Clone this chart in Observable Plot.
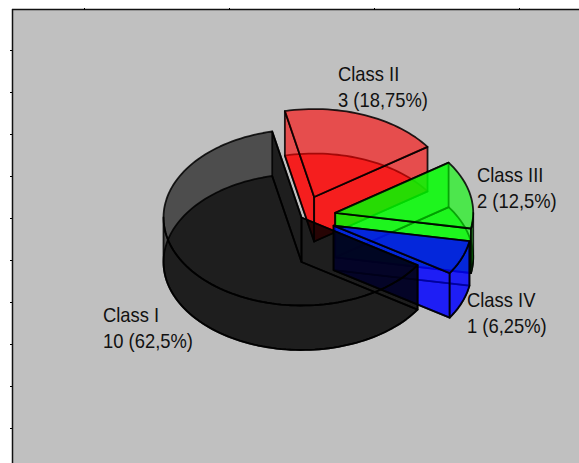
<!DOCTYPE html>
<html>
<head>
<meta charset="utf-8">
<script src="https://cdn.jsdelivr.net/npm/d3@7"></script>
<script src="https://cdn.jsdelivr.net/npm/@observablehq/plot@0.6"></script>
<style>
html,body{margin:0;padding:0;background:#fff;overflow:hidden}
svg{display:block}
</style>
</head>
<body>
<div id="chart"></div>
<script>
const classes = ["Class I", "Class II", "Class III", "Class IV"];
const counts = [10, 3, 2, 1];
const colors = ["#000000", "#ff0000", "#00ff00", "#0000ff"];
const paintOrder = [1, 2, 3, 0];
const labelX = [18.5, 253.5, 392.5, 382.5];
const labelY = [253, 12, 113, 238.5];
const xTicks = [0, 145, 290, 435];
const yTicks = [0, 42, 84, 126, 168, 210, 252, 294, 336, 378];

// pie geometry in chart units
const cx = 217, cy = 167, rx = 138, ry = 88, depth = 44.5, explode = 0.25, startAngle = 122.75;
const alpha = 0.6;
const total = d3.sum(counts);
const rad = a => a * Math.PI / 180;

const arc = (a0, a1, ox, oy, dz) => {
  const n = Math.max(2, Math.ceil(Math.abs(a1 - a0) / 2));
  return d3.range(n + 1).map(i => {
    const a = rad(a0 + (a1 - a0) * i / n);
    return {x: ox + rx * Math.sin(a), y: oy - ry * Math.cos(a) + dz};
  });
};

let cum = startAngle;
const slices = counts.map((v, i) => {
  const a0 = cum, a1 = cum + v / total * 360;
  cum = a1;
  const mid = rad((a0 + a1) / 2);
  return {
    a0, a1, color: colors[i],
    ox: cx + (i ? explode * rx * Math.sin(mid) : 0),
    oy: cy - (i ? explode * ry * Math.cos(mid) : 0)
  };
});

const face = (s, dz) => [{x: s.ox, y: s.oy + dz}, ...arc(s.a0, s.a1, s.ox, s.oy, dz)];
const radial = (s, a) => {
  const p = arc(a, a, s.ox, s.oy, 0)[0];
  return [{x: s.ox, y: s.oy}, p, {x: p.x, y: p.y + depth}, {x: s.ox, y: s.oy + depth}];
};
const outer = s => {
  // only the part of the rim facing the viewer (90..270 degrees, modulo a turn)
  const polys = [];
  for (const k of [0, 360]) {
    const lo = Math.max(s.a0, 90 + k), hi = Math.min(s.a1, 270 + k);
    if (hi > lo) {
      const top = arc(lo, hi, s.ox, s.oy, 0);
      polys.push([...top, ...arc(hi, lo, s.ox, s.oy, depth)]);
    }
  }
  return polys;
};

const poly = (pts, color) => Plot.line(pts, {
  x: "x", y: "y", curve: "linear-closed",
  fill: color, fillOpacity: alpha,
  stroke: "#000", strokeOpacity: 0.85, strokeWidth: 1.8, strokeLinejoin: "round"
});

const pieMarks = paintOrder.flatMap(i => {
  const s = slices[i];
  return [
    poly(face(s, depth), s.color),
    poly(radial(s, s.a0), s.color),
    poly(radial(s, s.a1), s.color),
    ...outer(s).map(p => poly(p, s.color)),
    poly(face(s, 0), s.color)
  ];
});

const labels = classes.map((c, i) => ({
  x: labelX[i], y: labelY[i],
  text: `${c}\n${counts[i]} (${String(counts[i] / total * 100).replace(".", ",")}%)`
}));

const chart = Plot.plot({
  width: 579, height: 463,
  marginTop: 9, marginLeft: 12, marginRight: 0, marginBottom: 0,
  style: {background: "#fff", overflow: "hidden"},
  x: {domain: [-72, 495], range: [12, 579]},
  y: {domain: [-41, 413], range: [9, 463]},
  marks: [
    Plot.frame({fill: "#c0c0c0", stroke: "none"}),
    Plot.ruleX([-72], {stroke: "#111", strokeWidth: 1.5}),
    Plot.ruleY([-41], {stroke: "#111", strokeWidth: 1.5}),
    Plot.axisX({anchor: "top", ticks: xTicks, tickSize: 2, tickFormat: () => "", label: null}),
    Plot.axisY({anchor: "left", ticks: yTicks, tickSize: 2, tickFormat: () => "", label: null}),
    ...pieMarks,
    Plot.text(labels, {
      x: "x", y: "y", text: "text", textAnchor: "start", lineAnchor: "top",
      fontFamily: "Liberation Sans", fontSize: 20, lineHeight: 1.3, fill: "#111"
    })
  ]
});
document.getElementById("chart").append(chart);
// the reference's lettering is slightly condensed
d3.select(chart).selectAll("text").filter(function () { return this.textContent.length > 0; })
  .attr("transform", function () { return `${this.getAttribute("transform") || ""} scale(0.92,1)`; });
</script>
</body>
</html>
